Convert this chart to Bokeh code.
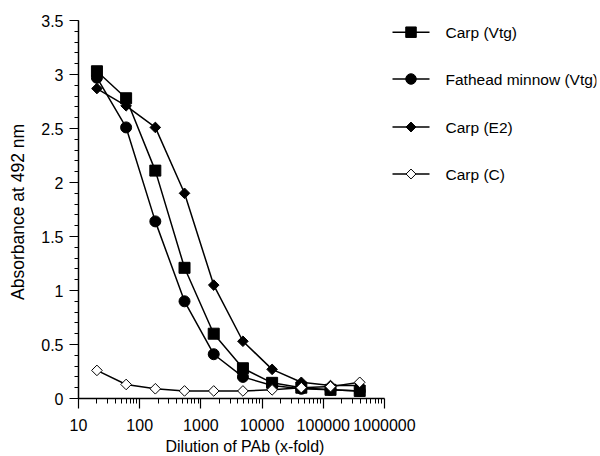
import numpy as np
from bokeh.plotting import figure
from bokeh.models import Range1d, FixedTicker, SingleIntervalTicker, Title, LinearScale
from bokeh.core.properties import value
from bokeh.embed import file_html
from bokeh.resources import INLINE

# ---- data ----
dilution = [20, 60, 180, 540, 1620, 4860, 14580, 43740, 131220, 393660]
carp_vtg = [3.03, 2.78, 2.11, 1.21, 0.60, 0.28, 0.145, 0.10, 0.08, 0.07]
fathead_vtg = [2.97, 2.51, 1.64, 0.90, 0.41, 0.20, 0.12, 0.09, 0.08, 0.07]
carp_e2 = [2.87, 2.71, 2.51, 1.90, 1.05, 0.53, 0.27, 0.15, 0.12, 0.12]
carp_c = [0.26, 0.13, 0.09, 0.07, 0.07, 0.07, 0.08, 0.10, 0.11, 0.15]

series_names = ["Carp (Vtg)", "Fathead minnow (Vtg)", "Carp (E2)", "Carp (C)"]

x_major = [10, 100, 1000, 10000, 100000, 1000000]
x_major_labels = ["10", "100", "1000", "10000", "100000", "1000000"]
y_major = [0, 0.5, 1, 1.5, 2, 2.5, 3, 3.5]
y_major_labels = ["0", "0.5", "1", "1.5", "2", "2.5", "3", "3.5"]

FONT = "Liberation Sans"

# layout (pixels)
W, H = 598, 456
LEFT, TOP, BOTTOM_Y = 78, 20, 398
AXIS_RIGHT = 384          # where 1,000,000 sits
FRAME_RIGHT = W - 2
frame_w = FRAME_RIGHT - LEFT
decades = 5.0 * frame_w / (AXIS_RIGHT - LEFT)
x_end = 10 ** (1 + decades)

p = figure(width=W, height=H, x_axis_type="log",
           x_range=Range1d(10, x_end), y_range=Range1d(0, 3.5),
           output_backend="svg", toolbar_location=None,
           min_border_left=LEFT, min_border_right=W - FRAME_RIGHT,
           min_border_top=TOP, min_border_bottom=H - BOTTOM_Y)
p.outline_line_color = None
p.xgrid.visible = False
p.ygrid.visible = False
p.background_fill_color = "white"
p.border_fill_color = "white"

minor_x = [m * 10 ** e for e in range(1, 6) for m in range(2, 10)]
p.xaxis.ticker = FixedTicker(ticks=x_major, minor_ticks=minor_x)
p.xaxis.major_label_overrides = dict(zip(x_major, x_major_labels))
p.xaxis.bounds = (10, 1000000)
p.yaxis.ticker = SingleIntervalTicker(interval=0.5, num_minor_ticks=5)
p.yaxis.major_label_overrides = {v: s for v, s in zip(y_major, y_major_labels)}

for ax in (p.xaxis, p.yaxis):
    ax.axis_line_color = "black"
    ax.axis_line_width = 1.5
    ax.major_tick_line_color = "black"
    ax.minor_tick_line_color = "black"
    ax.major_tick_line_width = 1.2
    ax.minor_tick_line_width = 1
    ax.major_tick_in = 0
    ax.minor_tick_in = 0
    ax.major_label_text_font = FONT
    ax.major_label_text_font_size = "16px"
    ax.major_label_text_color = "black"
    ax.axis_label_text_font = FONT
    ax.axis_label_text_font_style = "normal"
    ax.axis_label_text_color = "black"

p.xaxis.major_tick_out = 10
p.xaxis.minor_tick_out = 5
p.xaxis.major_label_standoff = 10

p.yaxis.major_tick_out = 9
p.yaxis.minor_tick_out = 4
p.yaxis.major_label_standoff = 6
p.yaxis.axis_label = "Absorbance at  492 nm"
p.yaxis.axis_label_text_font_size = "17.5px"
p.yaxis.axis_label_standoff = 10

xlabel = Title(text="Dilution of PAb (x-fold)", align="left", offset=87,
               text_font=FONT, text_font_size="16px", text_font_style="normal",
               text_color="black", standoff=4, text_line_height=0.75)
p.add_layout(xlabel, "below")

styles = [
    dict(marker="square", size=11, fill_color="black", angle=0.0),
    dict(marker="circle", size=11, fill_color="black", angle=0.0),
    dict(marker="square", size=7.5, fill_color="black", angle=np.pi / 4),
    dict(marker="square", size=7.5, fill_color="white", angle=np.pi / 4),
]
all_series = [carp_vtg, fathead_vtg, carp_e2, carp_c]

for name, ys, st in zip(series_names, all_series, styles):
    p.line(dilution, ys, line_color="black", line_width=1.5)
    p.scatter(dilution, ys, marker=st["marker"], size=st["size"],
              angle=st["angle"], fill_color=st["fill_color"],
              line_color="black", line_width=1)

# ---- legend, drawn in a pixel-based (linear) extra range ----
p.extra_x_ranges["px"] = Range1d(LEFT, FRAME_RIGHT)
p.extra_x_scales["px"] = LinearScale()
p.extra_y_ranges["py"] = Range1d(BOTTOM_Y, TOP)
p.extra_y_scales["py"] = LinearScale()

row_y = [31.7, 78.5, 126.5, 173.5]
for name, st, yy in zip(series_names, styles, row_y):
    p.line([392, 429], [yy, yy], line_color="black", line_width=1.5,
           x_range_name="px", y_range_name="py")
    p.scatter([410.5], [yy], marker=st["marker"], size=st["size"] - 0.5,
              angle=st["angle"], fill_color=st["fill_color"],
              line_color="black", line_width=1,
              x_range_name="px", y_range_name="py")
    p.text([445], [yy], text=[name], text_font=value(FONT),
           text_font_size="15.5px", text_baseline="middle", text_align="left",
           text_color="black", x_range_name="px", y_range_name="py")

open("out.html", "w").write(file_html(p, INLINE))
